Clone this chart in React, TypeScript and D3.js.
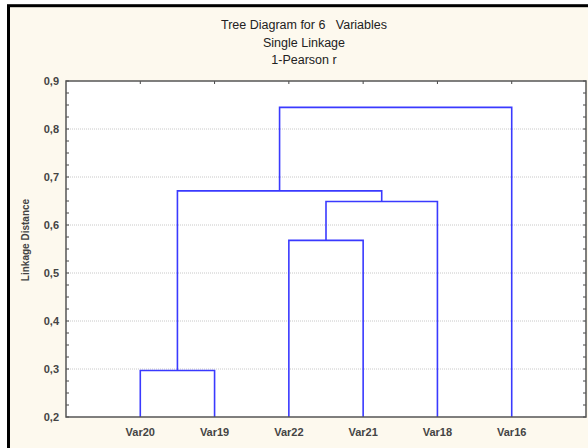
import React, { useEffect, useRef } from "react";
import * as d3 from "d3";

const leaves = ["Var20", "Var19", "Var22", "Var21", "Var18", "Var16"];
const mergeLeft = ["Var20", "Var22", "C2", "C1", "C4"];
const mergeRight = ["Var19", "Var21", "Var18", "C3", "Var16"];
const mergeHeight = [0.297, 0.568, 0.649, 0.671, 0.845];
const yTicks = [0.2, 0.3, 0.4, 0.5, 0.6, 0.7, 0.8, 0.9];
const titleLines = ["Tree Diagram for 6   Variables", "Single Linkage", "1-Pearson r"];

const App = () => {
  const svgRef = useRef<SVGSVGElement>(null);

  useEffect(() => {
    const width = 588, height = 448;
    const left = 66, right = 586, top = 81, bottom = 417;
    const font = "'Liberation Sans', Arial, sans-serif";

    const svg = d3.select(svgRef.current)
      .attr("width", width)
      .attr("height", height);
    svg.selectAll("*").remove();

    svg.append("rect").attr("width", width).attr("height", height).attr("fill", "#ffffff");
    svg.append("rect")
      .attr("x", 8.5).attr("y", 5.7)
      .attr("width", width).attr("height", height)
      .attr("fill", "#fdf9ee")
      .attr("stroke", "#000").attr("stroke-width", 3);

    const x = d3.scaleLinear().domain([-1, leaves.length]).range([left, right]);
    const y = d3.scaleLinear().domain([0.2, 0.9]).range([bottom, top]);

    // plot area
    svg.append("rect")
      .attr("x", left).attr("y", top)
      .attr("width", right - left).attr("height", bottom - top)
      .attr("fill", "#fff");

    // grid
    svg.append("g").selectAll("line")
      .data(yTicks.filter(t => t > 0.2 && t < 0.9))
      .enter().append("line")
      .attr("x1", left).attr("x2", right)
      .attr("y1", d => y(d)).attr("y2", d => y(d))
      .attr("stroke", "#c8c8c8")
      .attr("stroke-dasharray", "1,1");

    // minor ticks
    const minor = d3.range(0.2, 0.9001, 0.025);
    const tg = svg.append("g").attr("stroke", "#444").attr("stroke-width", 1);
    minor.forEach(t => {
      tg.append("line").attr("x1", left).attr("x2", left + 3).attr("y1", y(t)).attr("y2", y(t));
      tg.append("line").attr("x1", right - 3).attr("x2", right).attr("y1", y(t)).attr("y2", y(t));
    });
    leaves.forEach((_, i) => {
      tg.append("line").attr("x1", x(i)).attr("x2", x(i)).attr("y1", top).attr("y2", top + 3);
    });

    // dendrogram
    const pos = new Map<string, { x: number; h: number }>();
    leaves.forEach((l, i) => pos.set(l, { x: i, h: 0.2 }));
    const linkG = svg.append("g")
      .attr("fill", "none")
      .attr("stroke", "#3a3aff")
      .attr("stroke-width", 1.6);
    mergeHeight.forEach((h, i) => {
      const a = pos.get(mergeLeft[i])!;
      const b = pos.get(mergeRight[i])!;
      linkG.append("path")
        .attr("d", `M${x(a.x)},${y(a.h)}V${y(h)}H${x(b.x)}V${y(b.h)}`);
      pos.set("C" + (i + 1), { x: (a.x + b.x) / 2, h });
    });

    // frame
    svg.append("rect")
      .attr("x", left).attr("y", top)
      .attr("width", right - left).attr("height", bottom - top)
      .attr("fill", "none")
      .attr("stroke", "#555").attr("stroke-width", 1.5);

    // y labels
    svg.append("g").selectAll("text")
      .data(yTicks)
      .enter().append("text")
      .attr("x", left - 7)
      .attr("y", d => y(d) + 4)
      .attr("text-anchor", "end")
      .attr("font-family", font)
      .attr("font-size", "11px")
      .attr("font-weight", "bold")
      .attr("fill", "#444")
      .text(d => d3.format(".1f")(d).replace(".", ","));

    // x labels
    svg.append("g").selectAll("text")
      .data(leaves)
      .enter().append("text")
      .attr("x", (_, i) => x(i))
      .attr("y", 436)
      .attr("text-anchor", "middle")
      .attr("font-family", font)
      .attr("font-size", "11px")
      .attr("font-weight", "bold")
      .attr("fill", "#444")
      .text(d => d);

    svg.append("text")
      .attr("transform", "rotate(-90)")
      .attr("x", -240)
      .attr("y", 29)
      .attr("text-anchor", "middle")
      .attr("font-family", font)
      .attr("font-size", "10px")
      .attr("font-weight", "bold")
      .attr("fill", "#444")
      .text("Linkage Distance");

    svg.append("g").selectAll("text")
      .data(titleLines)
      .enter().append("text")
      .attr("x", 304)
      .attr("y", (_, i) => 29 + i * 17.5)
      .attr("text-anchor", "middle")
      .attr("font-family", font)
      .attr("font-size", "12.5px")
      .attr("fill", "#222")
      .style("white-space", "pre")
      .text(d => d);
  }, []);

  return <svg ref={svgRef} style={{ position: "absolute", left: 0, top: 0 }}></svg>;
};

export default App;
